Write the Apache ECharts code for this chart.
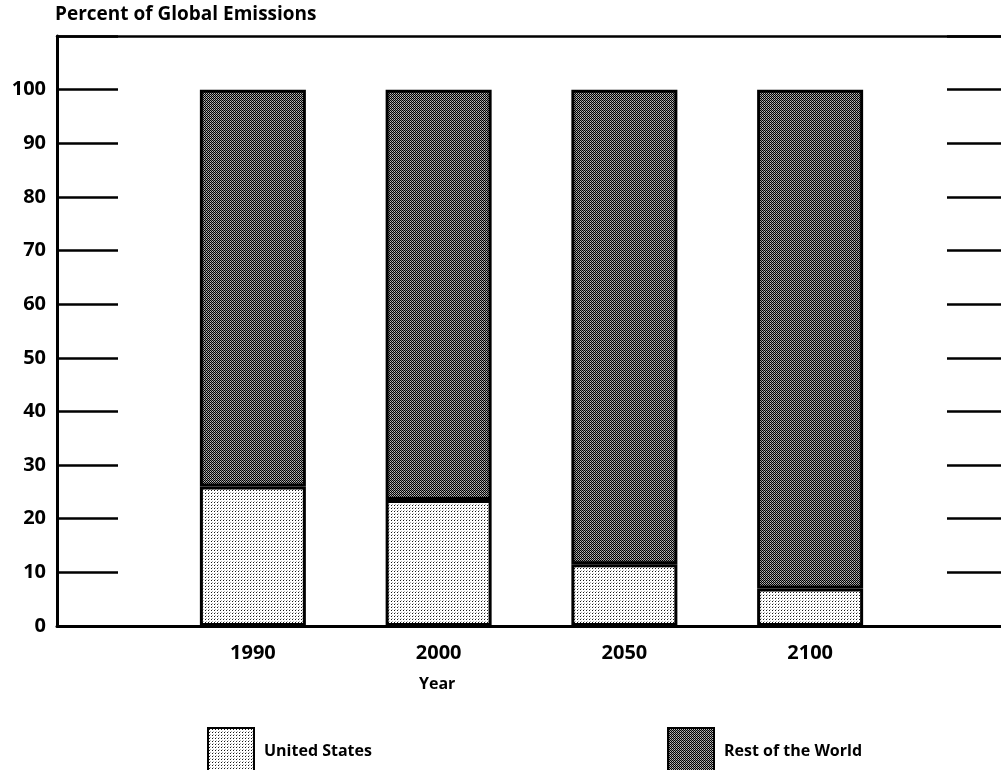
<!DOCTYPE html>
<html>
<head>
<meta charset="utf-8">
<script src="https://cdn.jsdelivr.net/npm/echarts@6/dist/echarts.min.js"></script>
<style>
  html, body { margin: 0; padding: 0; background: #fff; }
  #chart { width: 1001px; height: 770px; }
</style>
</head>
<body>
<div id="chart"></div>
<script>
// data
const years = ["1990", "2000", "2050", "2100"];
const unitedStates = [26, 23.5, 11.5, 7];
const restOfWorld = [74, 76.5, 88.5, 93];
const yTickLabels = ["0", "10", "20", "30", "40", "50", "60", "70", "80", "90", "100"];

const FONT = "Open Sans";

// small tiled textures, like the stipple of the printed chart
function makeTile(size, pixels, bg) {
  const c = document.createElement("canvas");
  c.width = size;
  c.height = size;
  const ctx = c.getContext("2d");
  ctx.fillStyle = bg;
  ctx.fillRect(0, 0, size, size);
  pixels.forEach(([x, y, col]) => {
    ctx.fillStyle = col;
    ctx.fillRect(x, y, 1, 1);
  });
  return c;
}
// light dots for the United States
const usTile = makeTile(3, [[1, 1, "#1a1a1a"], [2, 0, "#b0b0b0"]], "#ffffff");
// dark checker for the rest of the world
const rowTile = makeTile(2, [[0, 0, "#000000"], [1, 1, "#000000"], [1, 0, "#888888"]], "#bcbcbc");

const chart = echarts.init(document.getElementById("chart"), null, { renderer: "canvas" });

const tickLabel = {
  color: "#000",
  fontFamily: FONT,
  fontWeight: "bold",
  fontSize: 20,
};

const legendText = {
  color: "#000",
  fontFamily: FONT,
  fontWeight: "bold",
  fontSize: 16,
  padding: [0, 0, 0, 5],
};

const option = {
  animation: false,
  backgroundColor: "#fff",
  title: [
    {
      text: "Percent of Global Emissions",
      left: 55,
      top: 5,
      padding: 0,
      textStyle: { color: "#000", fontFamily: FONT, fontWeight: "bold", fontSize: 19 },
    },
    {
      text: "Year",
      left: 419,
      top: 676,
      padding: 0,
      textStyle: { color: "#000", fontFamily: FONT, fontWeight: "bold", fontSize: 16 },
    },
  ],
  legend: [
    {
      data: ["United States"],
      left: 207,
      top: 727,
      padding: 0,
      icon: "rect",
      itemWidth: 46,
      itemHeight: 46,
      textStyle: legendText,
    },
    {
      data: ["Rest of the World"],
      left: 667,
      top: 727,
      padding: 0,
      icon: "rect",
      itemWidth: 46,
      itemHeight: 46,
      textStyle: legendText,
    },
  ],
  grid: [
    // frame with the axis and the short tick lines at both sides
    { left: 57, right: 0, top: 36, bottom: 144 },
    // the bars
    { left: 160, right: 98, top: 36, bottom: 144 },
  ],
  xAxis: [
    {
      gridIndex: 0,
      type: "value",
      min: 0,
      max: 1,
      position: "bottom",
      axisLine: { show: true, onZero: false, lineStyle: { color: "#000", width: 3 } },
      axisTick: { show: false },
      axisLabel: { show: false },
      splitLine: { show: false },
    },
    {
      gridIndex: 0,
      type: "value",
      min: 0,
      max: 1,
      position: "top",
      axisLine: { show: true, onZero: false, lineStyle: { color: "#000", width: 2.5 } },
      axisTick: { show: false },
      axisLabel: { show: false },
      splitLine: { show: false },
    },
    {
      gridIndex: 1,
      type: "category",
      data: years,
      axisLine: { show: false },
      axisTick: { show: false },
      axisLabel: Object.assign({ margin: 17 }, tickLabel),
    },
  ],
  yAxis: [
    {
      gridIndex: 0,
      type: "value",
      min: 0,
      max: 110,
      interval: 10,
      position: "left",
      axisLine: { show: true, onZero: false, lineStyle: { color: "#000", width: 3 } },
      axisTick: { show: true, inside: true, length: 61, lineStyle: { color: "#000", width: 2.5 } },
      axisLabel: Object.assign(
        {
          margin: 11,
          formatter: (v) => (yTickLabels.includes(String(v)) ? String(v) : ""),
        },
        tickLabel
      ),
      splitLine: { show: false },
    },
    {
      gridIndex: 0,
      type: "value",
      min: 0,
      max: 110,
      interval: 10,
      position: "right",
      axisLine: { show: false, onZero: false },
      axisTick: { show: true, inside: true, length: 54, lineStyle: { color: "#000", width: 2.5 } },
      axisLabel: { show: false },
      splitLine: { show: false },
    },
    {
      gridIndex: 1,
      type: "value",
      min: 0,
      max: 110,
      show: false,
      splitLine: { show: false },
    },
  ],
  series: [
    {
      name: "United States",
      type: "bar",
      stack: "total",
      xAxisIndex: 2,
      yAxisIndex: 2,
      barWidth: 106,
      data: unitedStates,
      itemStyle: {
        color: { image: usTile, repeat: "repeat" },
        borderColor: "#000",
        borderWidth: 3,
      },
    },
    {
      name: "Rest of the World",
      type: "bar",
      stack: "total",
      xAxisIndex: 2,
      yAxisIndex: 2,
      barWidth: 106,
      data: restOfWorld,
      itemStyle: {
        color: { image: rowTile, repeat: "repeat" },
        borderColor: "#000",
        borderWidth: 3,
      },
    },
  ],
};

chart.setOption(option);
</script>
</body>
</html>
